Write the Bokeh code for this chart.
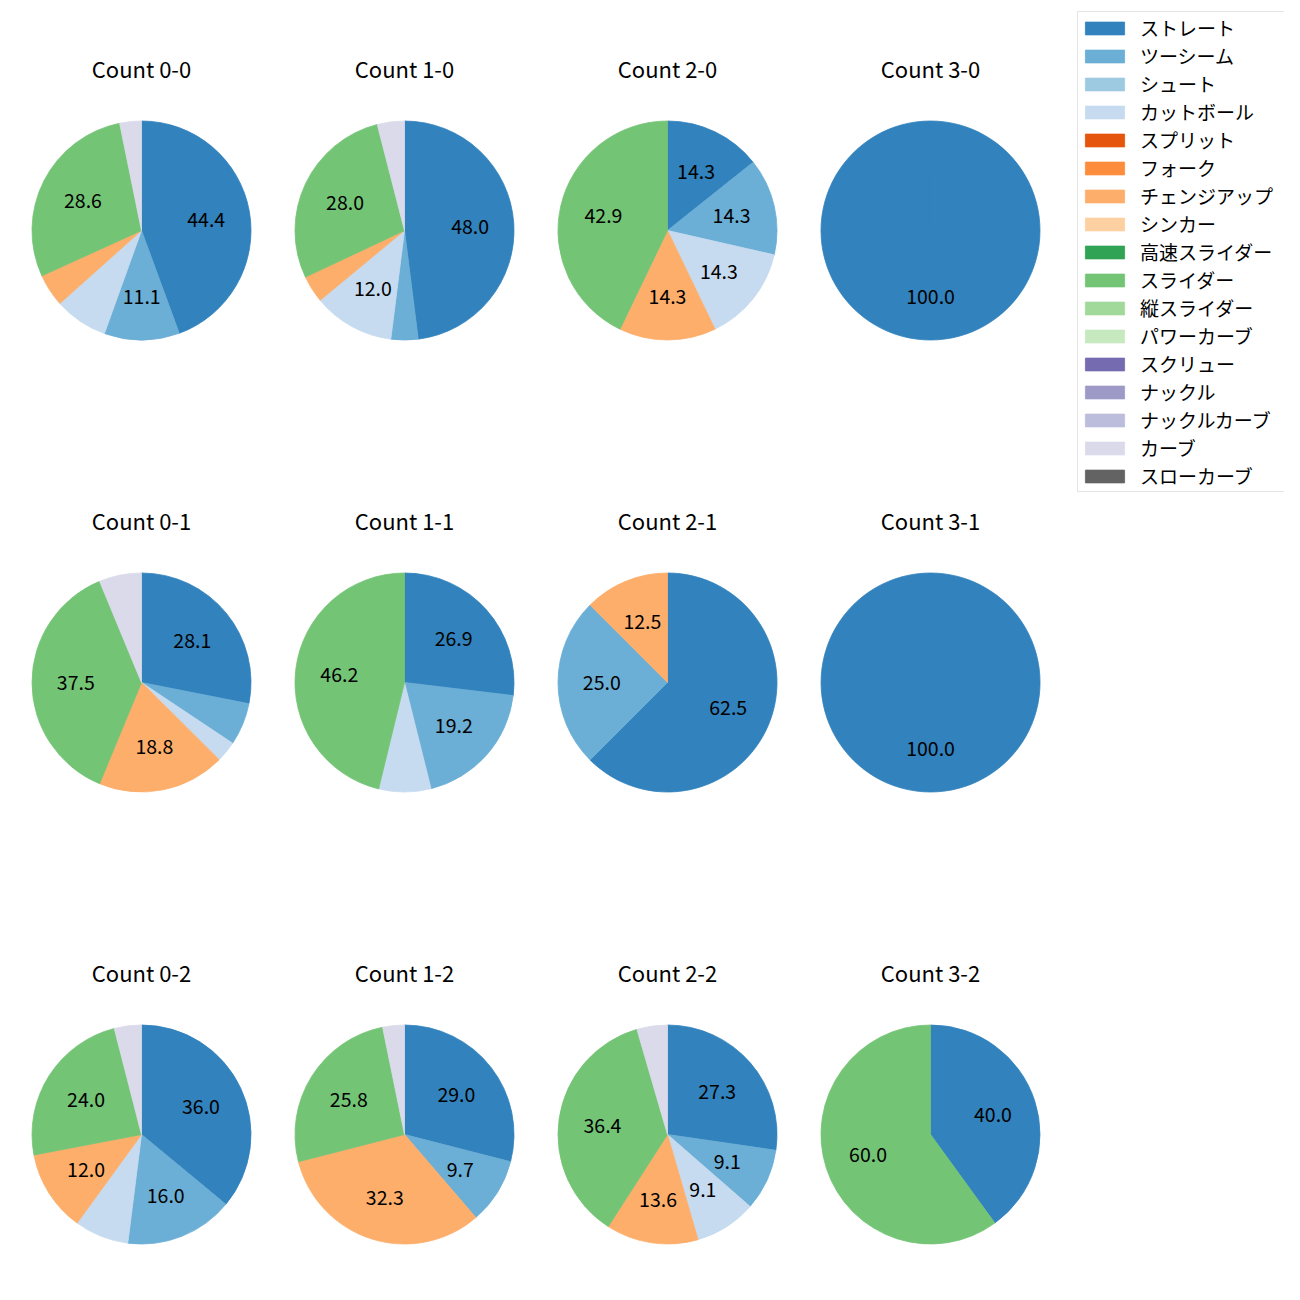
import math
from bokeh.plotting import figure
from bokeh.models import ColumnDataSource, Range1d, Legend, LegendItem
from bokeh.core.properties import value
from bokeh.embed import file_html
from bokeh.resources import INLINE

pitch_types = ["ストレート", "ツーシーム", "シュート", "カットボール", "スプリット", "フォーク",
               "チェンジアップ", "シンカー", "高速スライダー", "スライダー", "縦スライダー",
               "パワーカーブ", "スクリュー", "ナックル", "ナックルカーブ", "カーブ", "スローカーブ"]
pitch_colors = ["#3182bd", "#6baed6", "#9ecae1", "#c6dbef", "#e6550d", "#fd8d3c",
                "#fdae6b", "#fdd0a2", "#31a354", "#74c476", "#a1d99b",
                "#c7e9c0", "#756bb1", "#9e9ac8", "#bcbddc", "#dadaeb", "#636363"]

count_labels = ["0-0", "1-0", "2-0", "3-0",
                "0-1", "1-1", "2-1", "3-1",
                "0-2", "1-2", "2-2", "3-2"]

# share (%) of each pitch type, in pitch_types order
share_0_0 = [44.4, 11.1, 0, 7.9, 0, 0, 4.8, 0, 0, 28.6, 0, 0, 0, 0, 0, 3.2, 0]
share_1_0 = [48.0, 4.0, 0, 12.0, 0, 0, 4.0, 0, 0, 28.0, 0, 0, 0, 0, 0, 4.0, 0]
share_2_0 = [14.3, 14.3, 0, 14.3, 0, 0, 14.3, 0, 0, 42.9, 0, 0, 0, 0, 0, 0, 0]
share_3_0 = [100.0, 0, 0, 0, 0, 0, 0, 0, 0, 0, 0, 0, 0, 0, 0, 0, 0]
share_0_1 = [28.1, 6.25, 0, 3.1, 0, 0, 18.8, 0, 0, 37.5, 0, 0, 0, 0, 0, 6.25, 0]
share_1_1 = [26.9, 19.2, 0, 7.7, 0, 0, 0, 0, 0, 46.2, 0, 0, 0, 0, 0, 0, 0]
share_2_1 = [62.5, 25.0, 0, 0, 0, 0, 12.5, 0, 0, 0, 0, 0, 0, 0, 0, 0, 0]
share_3_1 = [100.0, 0, 0, 0, 0, 0, 0, 0, 0, 0, 0, 0, 0, 0, 0, 0, 0]
share_0_2 = [36.0, 16.0, 0, 8.0, 0, 0, 12.0, 0, 0, 24.0, 0, 0, 0, 0, 0, 4.0, 0]
share_1_2 = [29.0, 9.7, 0, 0, 0, 0, 32.3, 0, 0, 25.8, 0, 0, 0, 0, 0, 3.2, 0]
share_2_2 = [27.3, 9.1, 0, 9.1, 0, 0, 13.6, 0, 0, 36.4, 0, 0, 0, 0, 0, 4.5, 0]
share_3_2 = [40.0, 0, 0, 0, 0, 0, 0, 0, 0, 60.0, 0, 0, 0, 0, 0, 0, 0]

all_shares = [share_0_0, share_1_0, share_2_0, share_3_0,
              share_0_1, share_1_1, share_2_1, share_3_1,
              share_0_2, share_1_2, share_2_2, share_3_2]

FONT = "Noto Sans CJK JP"
W = H = 1284
PAGE = 1300
col_x = [141, 404, 667, 930]
row_y = [230, 682, 1134]
R = 109.5
LABEL_MIN = 8.5

p = figure(width=W, height=H, output_backend="svg", toolbar_location=None,
           x_range=Range1d(0, W), y_range=Range1d(PAGE - H, PAGE),
           min_border=0, background_fill_color="white", border_fill_color="white")
p.axis.visible = False
p.grid.visible = False
p.outline_line_color = None

wedge_data = {k: dict(x=[], y=[], r=[], start=[], end=[]) for k in range(len(pitch_types))}
lab = dict(x=[], y=[], t=[])
tit = dict(x=[], y=[], t=[])

for idx, (cl, shares) in enumerate(zip(count_labels, all_shares)):
    cx = col_x[idx % 4]
    cy = PAGE - row_y[idx // 4]
    tot = float(sum(shares))
    cum = 0.0
    for k, v in enumerate(shares):
        if v <= 0:
            continue
        frac = v / tot
        a0 = math.pi / 2 - 2 * math.pi * cum
        span = min(2 * math.pi * frac, 2 * math.pi - 1e-3)
        a1 = a0 - span
        d = wedge_data[k]
        d["x"].append(cx); d["y"].append(cy); d["r"].append(R)
        d["start"].append(a1); d["end"].append(a0)
        pct = 100 * frac
        if pct >= LABEL_MIN:
            mid = (a0 + a1) / 2
            lab["x"].append(cx + 0.6 * R * math.cos(mid))
            lab["y"].append(cy + 0.6 * R * math.sin(mid))
            lab["t"].append("%.1f" % pct)
        cum += frac
    tit["x"].append(cx)
    tit["y"].append(cy + 163)
    tit["t"].append("Count " + cl)

# pitch types that never appear still need a (zero-size) entry for their legend swatch
for k in range(len(pitch_types)):
    d = wedge_data[k]
    if not d["x"]:
        d["x"].append(col_x[0]); d["y"].append(PAGE - row_y[0]); d["r"].append(0)
        d["start"].append(0); d["end"].append(0)

items = []
for k, name in enumerate(pitch_types):
    r = p.wedge(x="x", y="y", radius="r", start_angle="start", end_angle="end",
                source=ColumnDataSource(wedge_data[k]), fill_color=pitch_colors[k],
                line_color=pitch_colors[k], line_width=0.8)
    items.append(LegendItem(label=name, renderers=[r]))

p.text(x="x", y="y", text="t", source=ColumnDataSource(lab), text_align="center",
       text_baseline="middle", text_font=value(FONT), text_font_size="19.5px",
       text_color="black")
p.text(x="x", y="y", text="t", source=ColumnDataSource(tit), text_align="center",
       text_baseline="middle", text_font=value(FONT), text_font_size="22px",
       text_color="black")

legend = Legend(items=items, location=(1077, H - 492), orientation="vertical",
                label_text_font=FONT, label_text_font_size="19px", label_text_color="black",
                glyph_width=49, glyph_height=16, label_standoff=11,
                label_height=16, label_width=142, spacing=1, padding=2, margin=0,
                border_line_color="#cccccc", border_line_width=1,
                background_fill_color="white", background_fill_alpha=0.8)
p.add_layout(legend, "center")

open("out.html", "w").write(file_html(p, INLINE))
